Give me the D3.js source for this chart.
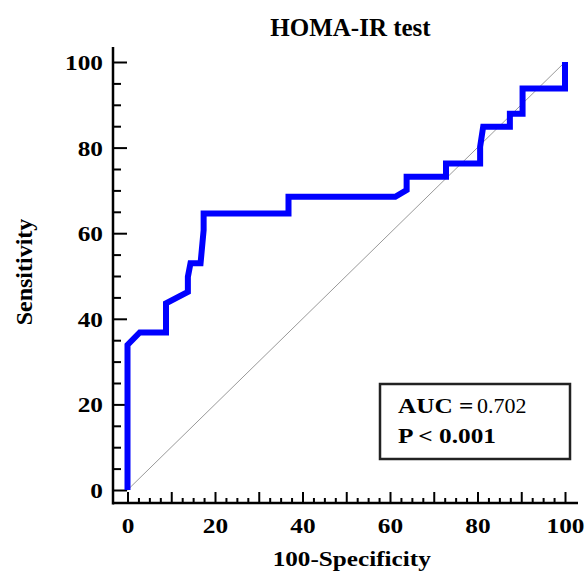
<!DOCTYPE html>
<html>
<head>
<meta charset="utf-8">
<script src="https://cdn.jsdelivr.net/npm/d3@7"></script>
<style>
  html, body { margin: 0; padding: 0; background: #fff; }
  svg { display: block; }
  text { font-family: "Liberation Serif", "Times New Roman", serif; fill: #000; }
</style>
</head>
<body>
<svg id="chart" width="587" height="573"></svg>
<script>
// ROC curve points: 100-Specificity (x) and Sensitivity (y)
const fpr  = [0, 0, 2.8, 8.8, 8.8, 13.8, 13.8, 14.4, 16.7, 17.4, 17.4, 36.8, 36.8, 61.2, 63.8, 63.8, 72.8, 72.8, 80.6, 80.6, 81.3, 87.4, 87.4, 90.3, 90.3, 100, 100];
const sens = [0, 33.9, 36.8, 36.8, 43.6, 46.3, 49.8, 53, 53, 60.7, 64.6, 64.6, 68.5, 68.5, 70.1, 73.2, 73.2, 76.3, 76.3, 80.2, 84.9, 84.9, 87.9, 87.9, 93.8, 93.8, 100];
const refLine = [0, 100];
const xMajorTicks = [0, 10, 20, 30, 40, 50, 60, 70, 80, 90, 100];
const xLabelTicks = [0, 20, 40, 60, 80, 100];
const xMinorTicks = d3.range(0, 100.01, 2.5).filter(v => v % 10 !== 0);
const yMajorTicks = [0, 20, 40, 60, 80, 100];
const yMinorTicks = d3.range(0, 100.01, 5).filter(v => v % 20 !== 0);
const title = "HOMA-IR test";
const xTitle = "100-Specificity";
const yTitle = "Sensitivity";
const aucLabel = "AUC =";
const aucValue = "0.702";
const pLabel = "P < 0.001";

const svg = d3.select("#chart");
const x = d3.scaleLinear().domain([0, 100]).range([127.5, 565]);
const y = d3.scaleLinear().domain([0, 100]).range([490, 62]);
const axisX0 = 113, axisY0 = 503;
const sx = 1.15;

// title
svg.append("text").attr("x", 350.5).attr("y", 36)
  .attr("text-anchor", "middle").attr("font-size", 25).attr("font-weight", "bold")
  .text(title);

// reference diagonal
svg.append("line")
  .attr("x1", x(refLine[0])).attr("y1", y(refLine[0]))
  .attr("x2", x(refLine[1])).attr("y2", y(refLine[1]))
  .attr("stroke", "#999").attr("stroke-width", 1);

// y axis
const gy = svg.append("g").attr("transform", `translate(${axisX0},0)`);
gy.call(d3.axisLeft(y).tickValues(yMinorTicks).tickSize(-8).tickFormat(""));
gy.call(g => g.select(".domain").remove());
const gy2 = svg.append("g").attr("transform", `translate(${axisX0},0)`);
gy2.call(d3.axisLeft(y).tickValues(yMajorTicks).tickSize(-14).tickPadding(10 / sx).tickFormat(d3.format("d")));
gy2.select(".domain").remove();
gy2.selectAll("text")
  .attr("font-family", "Liberation Serif, Times New Roman, serif")
  .attr("font-size", 22).attr("font-weight", "bold").attr("dy", "0.34em")
  .attr("transform", `scale(${sx},1)`);
svg.selectAll(".tick line").attr("stroke", "#000").attr("stroke-width", 2);

// x axis
const gx = svg.append("g").attr("transform", `translate(0,${axisY0})`);
gx.call(d3.axisBottom(x).tickValues(xMinorTicks).tickSize(-5).tickFormat(""));
gx.select(".domain").remove();
const gx2 = svg.append("g").attr("transform", `translate(0,${axisY0})`);
gx2.call(d3.axisBottom(x).tickValues(xMajorTicks).tickSize(-11)
  .tickFormat(d => xLabelTicks.includes(d) ? d3.format("d")(d) : ""));
gx2.select(".domain").remove();
gx2.selectAll("text")
  .attr("font-family", "Liberation Serif, Times New Roman, serif")
  .attr("font-size", 22).attr("font-weight", "bold")
  .attr("y", 30).attr("dy", 0)
  .attr("transform", `scale(${sx},1)`);
svg.selectAll(".tick line").attr("stroke", "#000").attr("stroke-width", 2);

// axis lines
svg.append("line").attr("x1", axisX0).attr("x2", axisX0).attr("y1", 47).attr("y2", axisY0 + 1.5)
  .attr("stroke", "#000").attr("stroke-width", 2.5);
svg.append("line").attr("x1", axisX0).attr("x2", 578).attr("y1", axisY0).attr("y2", axisY0)
  .attr("stroke", "#000").attr("stroke-width", 2.5);

// axis titles
svg.append("text").attr("transform", `translate(351.7,566) scale(1.2,1)`)
  .attr("text-anchor", "middle").attr("font-size", 21).attr("font-weight", "bold")
  .text(xTitle);
svg.append("text").attr("transform", "translate(32,272) rotate(-90)")
  .attr("text-anchor", "middle").attr("font-size", 24).attr("font-weight", "bold")
  .text(yTitle);

// ROC curve
const pts = fpr.map((v, i) => [v, sens[i]]);
svg.append("path").datum(pts)
  .attr("d", d3.line().x(d => x(d[0])).y(d => y(d[1])))
  .attr("fill", "none").attr("stroke", "#0000ff").attr("stroke-width", 6)
  .attr("stroke-linejoin", "miter").attr("stroke-linecap", "butt");

// legend box
svg.append("rect").attr("x", 380).attr("y", 384).attr("width", 190).attr("height", 75)
  .attr("fill", "#fff").attr("stroke", "#222").attr("stroke-width", 2.5);
svg.append("text").attr("transform", `translate(398,413) scale(${sx},1)`)
  .attr("font-size", 22).attr("font-weight", "bold").text(aucLabel);
svg.append("text").attr("x", 477).attr("y", 413)
  .attr("font-size", 22).attr("font-weight", "normal").text(aucValue);
svg.append("text").attr("transform", `translate(398,443) scale(${sx},1)`)
  .attr("font-size", 22).attr("font-weight", "bold").text(pLabel);
</script>
</body>
</html>
